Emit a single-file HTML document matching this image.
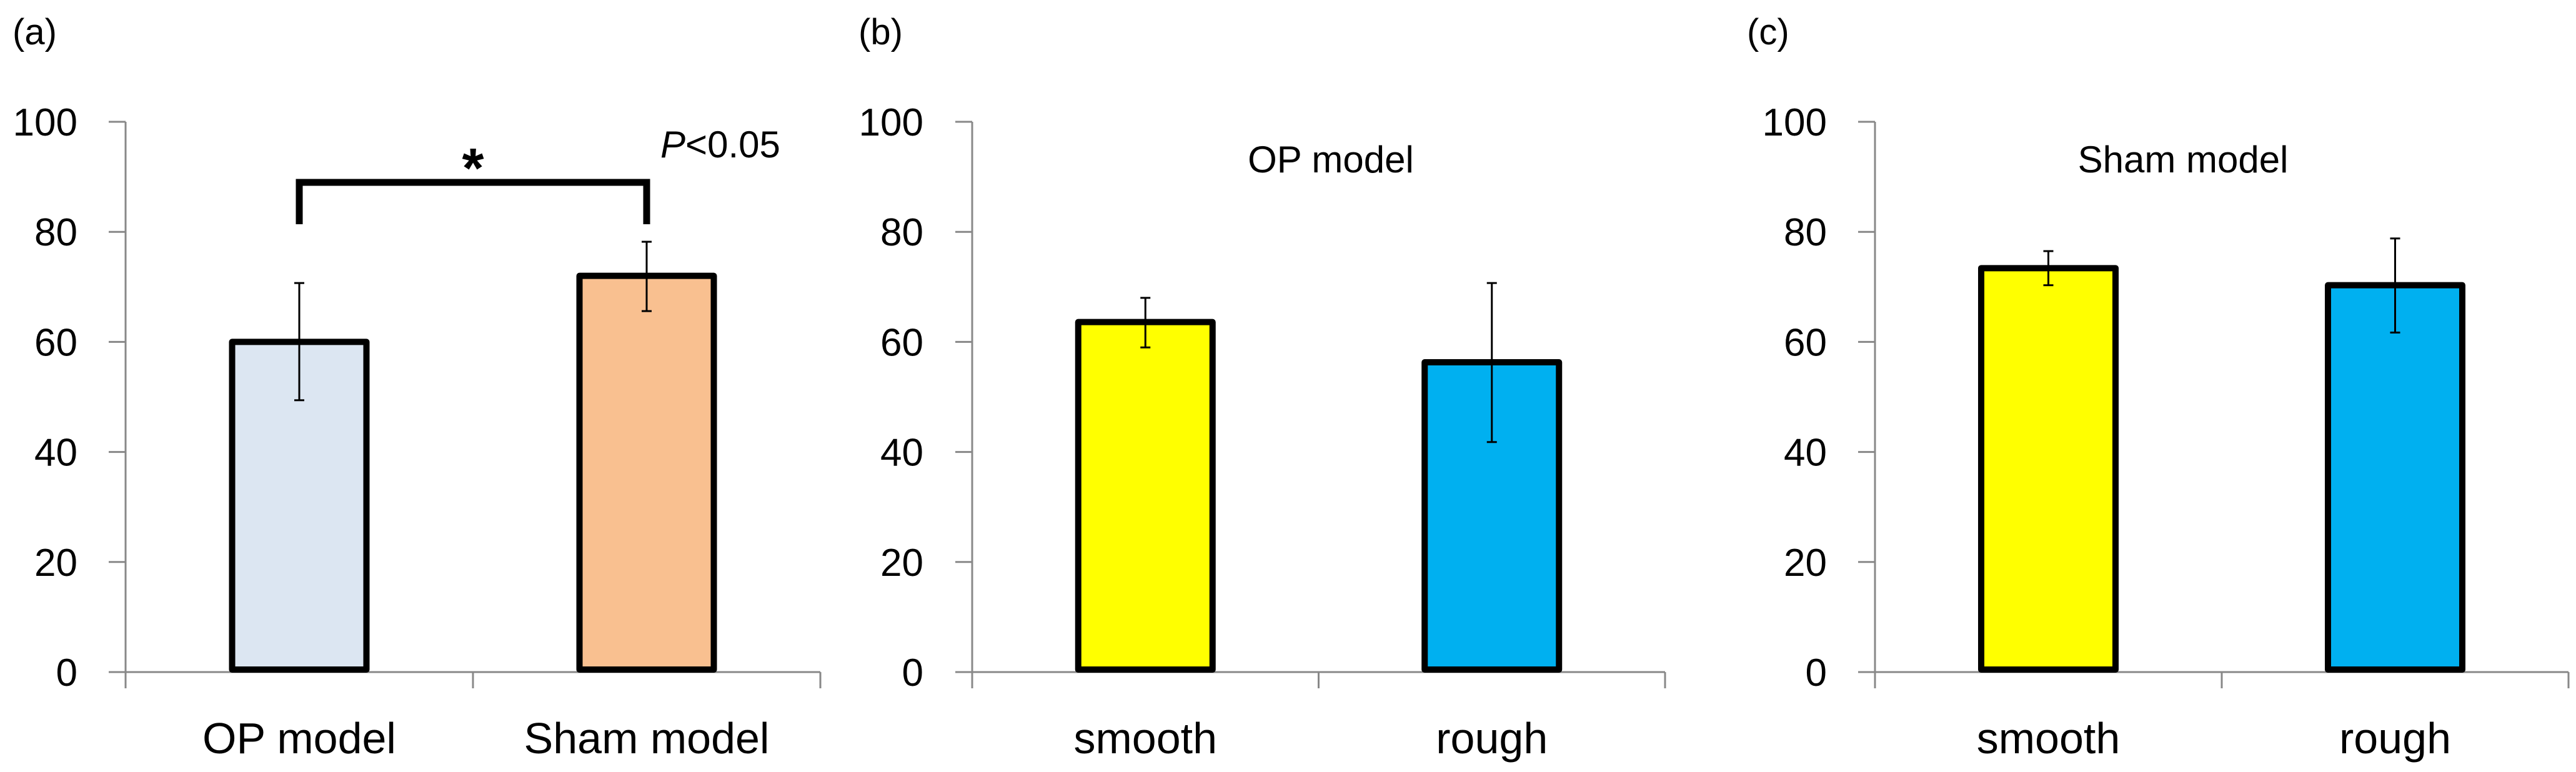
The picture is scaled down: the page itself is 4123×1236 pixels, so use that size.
<!DOCTYPE html>
<html><head><meta charset="utf-8"><style>
html,body{margin:0;padding:0;background:#fff;}
svg{display:block;font-family:"Liberation Sans",Arial,sans-serif;}
</style></head><body>
<svg id="fig" width="4123" height="1236" viewBox="0 0 4123 1236" xmlns="http://www.w3.org/2000/svg"></svg>
<script>
const yTicks = [0, 20, 40, 60, 80, 100];
const catsA = ["OP model", "Sham model"];
const valsA = [60, 72];
const errLoA = [49.4, 65.6];
const errHiA = [70.7, 78.2];
const catsB = ["smooth", "rough"];
const valsB = [63.6, 56.3];
const errLoB = [59, 41.8];
const errHiB = [68, 70.7];
const catsC = ["smooth", "rough"];
const valsC = [73.4, 70.3];
const errLoC = [70.3, 61.7];
const errHiC = [76.5, 78.8];

const NS = "http://www.w3.org/2000/svg";
const svg = document.getElementById('fig');
function mk(tag, attrs, parent, text){
  const e = document.createElementNS(NS, tag);
  for (const k in attrs) e.setAttribute(k, attrs[k]);
  if (text !== undefined) e.textContent = text;
  (parent || svg).appendChild(e);
  return e;
}
const Y0 = 1076, Y100 = 195;
function yScale(v){ return Y0 - (v/100)*(Y0 - Y100); }

function panel(cfg){
  const g = mk('g', {});
  
  
  const lab = mk('text', {x: cfg.labelX, y: 71, 'font-size': 58, fill: '#000'}, g, cfg.letter);
  
  
  const ax = cfg.axisX, right = cfg.rightX;
  const yl = mk('line', {x1: ax, y1: Y100, x2: ax, y2: 1102, stroke: '#888', 'stroke-width': 3}, g);
  
  
  yTicks.forEach(t => {
    const y = yScale(t);
    const tk = mk('line', {x1: ax - 27, y1: y, x2: ax, y2: y, stroke: '#888', 'stroke-width': 3}, g);
    
    
    const tl = mk('text', {x: cfg.tickLabelRight, y: y + 22, 'font-size': 62, 'text-anchor': 'end', fill: '#000'}, g, String(t));
    
    
  });
  const xl = mk('line', {x1: ax, y1: Y0, x2: right, y2: Y0, stroke: '#888', 'stroke-width': 3}, g);
  
  
  const n = cfg.cats.length;
  const step = (right - ax) / n;
  for (let i = 0; i <= n; i++) {
    const x = ax + i*step;
    const tk = mk('line', {x1: x, y1: Y0, x2: x, y2: 1102, stroke: '#888', 'stroke-width': 3}, g);
    
    
  }
  const bw = 215;
  cfg.cats.forEach((c, i) => {
    const cx = ax + (i + 0.5)*step;
    const top = yScale(cfg.vals[i]);
    const b = mk('rect', {x: cx - bw/2, y: top, width: bw, height: Y0 - 4 - top, fill: cfg.colors[i], stroke: '#000', 'stroke-width': 10, 'stroke-linejoin': 'round'}, g);
    
    
    const lo = yScale(cfg.lo[i]), hi = yScale(cfg.hi[i]);
    const eg = mk('g', {stroke: '#000', 'stroke-width': 3}, g);
    
    
    mk('line', {x1: cx, y1: lo, x2: cx, y2: hi}, eg);
    mk('line', {x1: cx - 8, y1: lo, x2: cx + 8, y2: lo}, eg);
    mk('line', {x1: cx - 8, y1: hi, x2: cx + 8, y2: hi}, eg);
    const t = mk('text', {x: cx, y: 1206, 'font-size': 70, 'text-anchor': 'middle', fill: '#000'}, g, c);
    
    
  });
  if (cfg.title) {
    const tt = mk('text', {x: cfg.titleX, y: 276, 'font-size': 60, 'text-anchor': 'middle', fill: '#000'}, g, cfg.title);
    
    
  }
  return {g, ax, step};
}

const pa = panel({name: 'panel-a', letter: '(a)', labelX: 20, axisX: 201, rightX: 1313, tickLabelRight: 124,
  cats: catsA, vals: valsA, lo: errLoA, hi: errHiA, colors: ['#dce6f2', '#f9c090']});
panel({name: 'panel-b', letter: '(b)', labelX: 1374, axisX: 1556, rightX: 2665, tickLabelRight: 1478,
  cats: catsB, vals: valsB, lo: errLoB, hi: errHiB, colors: ['#ffff00', '#00b0f0'], title: 'OP model', titleX: 2130});
panel({name: 'panel-c', letter: '(c)', labelX: 2796, axisX: 3001, rightX: 4111, tickLabelRight: 2924,
  cats: catsC, vals: valsC, lo: errLoC, hi: errHiC, colors: ['#ffff00', '#00b0f0'], title: 'Sham model', titleX: 3494});

const x1 = pa.ax + 0.5*pa.step, x2 = pa.ax + 1.5*pa.step;
const br = mk('path', {d: `M${x1} 359 V292 H${x2} V359`, fill: 'none', stroke: '#000', 'stroke-width': 11}, pa.g);


const st = mk('text', {x: (x1 + x2)/2, y: 300, 'font-size': 90, 'font-weight': 'bold', 'text-anchor': 'middle', fill: '#000'}, pa.g, '*');


const pv = mk('text', {x: 1057, y: 252, 'font-size': 60, fill: '#000'}, pa.g);


mk('tspan', {'font-style': 'italic'}, pv, 'P');
mk('tspan', {}, pv, '<0.05');
</script>
</body></html>
